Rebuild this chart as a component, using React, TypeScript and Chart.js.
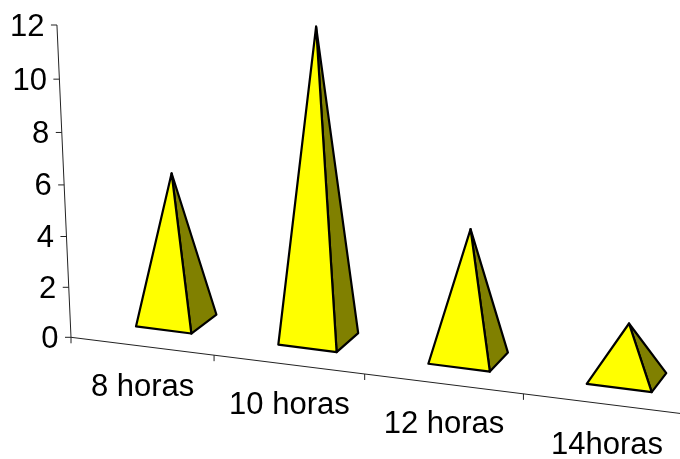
import React, { useEffect, useRef } from "react";
import { Chart, registerables } from "chart.js";

Chart.register(...registerables);

const categories = ["8 horas", "10 horas", "12 horas", "14horas"];
const hours = [5.8, 12, 5.1, 2.2];
const valueTicks = [0, 2, 4, 6, 8, 10, 12];

const FRONT_COLOR = "#FFFF00";
const SIDE_COLOR = "#808000";
const FONT = "31px 'Liberation Sans', Arial, sans-serif";

// Oblique view of the plot box: u runs along the floor, v up the value axis, d into the depth.
const ALONG_CONVERGENCE = 0.1;
const UP_CONVERGENCE = 0.047;
const FLOOR_SLOPE = 0.125;
const FRONT_DEPTH = 0.85;
const BACK_DEPTH = 1.85;

type Pt = { x: number; y: number };

function makeProjection(chart: any) {
  const { left, right, top, bottom } = chart.chartArea;
  const w = right - left;
  const h = bottom - top;
  return (px: number, py: number, d: number): Pt => {
    const u = (px - left) / w;
    const v = (bottom - py) / h;
    const floorX = (w * u) / (1 - ALONG_CONVERGENCE * u);
    const rise = (h * v * (1 - UP_CONVERGENCE)) / (1 - UP_CONVERGENCE * v);
    const lean = -0.045 + 0.1 * u;
    return {
      x: left + floorX + d * (27.5 - 14 * u) + lean * rise,
      y: bottom + FLOOR_SLOPE * floorX - d * 19 - rise,
    };
  };
}

function stroke(ctx: CanvasRenderingContext2D, a: Pt, b: Pt) {
  ctx.beginPath();
  ctx.moveTo(a.x, a.y);
  ctx.lineTo(b.x, b.y);
  ctx.stroke();
}

const pyramidPlugin = {
  id: "pyramids",
  afterDatasetsDraw(chart: any) {
    const ctx: CanvasRenderingContext2D = chart.ctx;
    const project = makeProjection(chart);
    const xs = chart.scales.x;
    const ys = chart.scales.y;
    const base = ys.getPixelForValue(0);

    ctx.save();

    // Axis lines and tick marks
    ctx.strokeStyle = "#222";
    ctx.lineWidth = 1;
    const origin = project(xs.left, base, 0);
    stroke(ctx, origin, project(xs.left, ys.getPixelForValue(12), 0));
    stroke(ctx, origin, project(xs.right, base, 0));

    ctx.fillStyle = "#000";
    ctx.font = FONT;
    ctx.textAlign = "right";
    ctx.textBaseline = "middle";
    valueTicks.forEach((t) => {
      const p = project(xs.left, ys.getPixelForValue(t), 0);
      stroke(ctx, p, { x: p.x - 6, y: p.y });
      ctx.fillText(String(t), p.x - 12.5, p.y + 2);
    });

    ctx.textAlign = "center";
    for (let i = 0; i <= categories.length; i++) {
      const p = project(xs.getPixelForValue(i - 0.5), base, 0);
      stroke(ctx, p, { x: p.x, y: p.y + 6 });
    }
    categories.forEach((label, i) => {
      const p = project(xs.getPixelForValue(i), base, 0);
      ctx.fillText(label, p.x + 1, p.y + 41);
    });

    // One square pyramid per bar element: right face first, front face over it
    ctx.lineWidth = 2.2;
    ctx.lineJoin = "round";
    ctx.strokeStyle = "#000";
    chart.getDatasetMeta(0).data.forEach((el: any) => {
      const { x, y, width } = el.getProps(["x", "y", "width"], true);
      const fl = project(x - width / 2, base, FRONT_DEPTH);
      const fr = project(x + width / 2, base, FRONT_DEPTH);
      const br = project(x + width / 2, base, BACK_DEPTH);
      const apex = project(x, y, (FRONT_DEPTH + BACK_DEPTH) / 2);

      ctx.fillStyle = SIDE_COLOR;
      ctx.beginPath();
      ctx.moveTo(fr.x, fr.y);
      ctx.lineTo(br.x, br.y);
      ctx.lineTo(apex.x, apex.y);
      ctx.closePath();
      ctx.fill();
      ctx.stroke();

      ctx.fillStyle = FRONT_COLOR;
      ctx.beginPath();
      ctx.moveTo(fl.x, fl.y);
      ctx.lineTo(fr.x, fr.y);
      ctx.lineTo(apex.x, apex.y);
      ctx.closePath();
      ctx.fill();
      ctx.stroke();
    });

    ctx.restore();
  },
};

export default function App() {
  const ref = useRef<HTMLCanvasElement>(null);

  useEffect(() => {
    const chart = new Chart(ref.current!, {
      type: "bar",
      data: {
        labels: categories,
        datasets: [
          {
            data: hours,
            backgroundColor: "transparent",
            borderWidth: 0,
            categoryPercentage: 0.395,
            barPercentage: 1,
          },
        ],
      },
      options: {
        responsive: false,
        animation: false,
        layout: { padding: { left: 71, right: 51, top: 25, bottom: 121.7 } },
        plugins: { legend: { display: false }, tooltip: { enabled: false } },
        scales: {
          x: { display: false },
          y: { display: false, min: 0, max: 12 },
        },
      },
      plugins: [pyramidPlugin],
    } as any);
    return () => chart.destroy();
  }, []);

  return (
    <canvas
      ref={ref}
      width={680}
      height={459}
      style={{ position: "absolute", left: 0, top: 0, width: 680, height: 459 }}
    />
  );
}
